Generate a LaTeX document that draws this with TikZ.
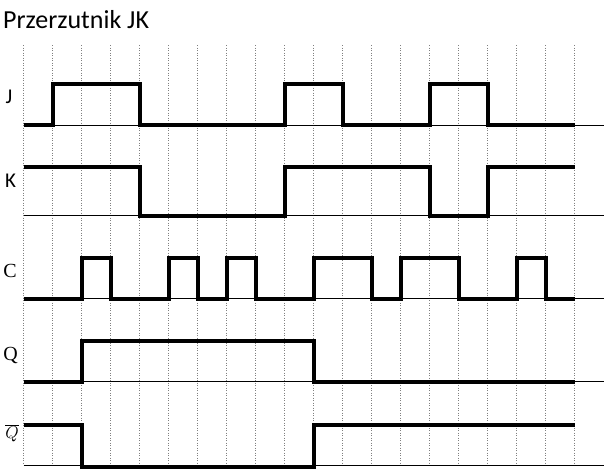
\documentclass[tikz,border=0pt]{standalone}
\usepackage{fontspec}
\setmainfont{Carlito}
\newfontfamily\labelserif{Liberation Serif}
\usepackage{tikz}

\begin{document}
\begin{tikzpicture}[x=1pt, y=-1pt, every node/.style={inner sep=0pt},
  title/.style={font=\fontsize{26}{30}\selectfont, anchor=base west},
  sans/.style={font=\fontsize{21}{24}\selectfont},
  serif/.style={font=\labelserif\fontsize{20}{24}\selectfont},
  grid/.style={gray, line width=0.8pt, dash pattern=on 1pt off 1.5pt},
  base/.style={line width=1pt},
  sig/.style={line width=4pt, line join=miter}]
\useasboundingbox (0,0) rectangle (615,474);
\node[title] (T) at (3,28) {Przerzutnik JK};
\node[sans] (J) at (9,97) {J};
\node[sans] (K) at (10.5,181) {K};
\node[serif] (C) at (10,271) {C};
\node[serif] (Q) at (10.5,355) {Q};
\node[font=\fontsize{19}{22}\selectfont] (NQ) at (12,433) {$\overline{Q}$};
\begin{scope}[x=29pt, xshift=23.5pt]
  \foreach \k in {0,...,19}
    \draw[grid] (\k,45) -- (\k,465);
  \foreach \y in {125,215.5,298.5,381.5,465.5}
    \draw[base] (0,\y) -- (20,\y);
  % J
  \draw[sig] (0,125) -- (1,125) -- (1,84) -- (4,84) -- (4,125) -- (9,125)
    -- (9,84) -- (11,84) -- (11,125) -- (14,125) -- (14,84) -- (16,84)
    -- (16,125) -- (19,125);
  % K
  \draw[sig] (0,167) -- (4,167) -- (4,215.5) -- (9,215.5) -- (9,167)
    -- (14,167) -- (14,215.5) -- (16,215.5) -- (16,167) -- (19,167);
  % C
  \draw[sig] (0,298.5) -- (2,298.5) -- (2,257.5) -- (3,257.5) -- (3,298.5)
    -- (5,298.5) -- (5,257.5) -- (6,257.5) -- (6,298.5) -- (7,298.5)
    -- (7,257.5) -- (8,257.5) -- (8,298.5) -- (10,298.5) -- (10,257.5)
    -- (12,257.5) -- (12,298.5) -- (13,298.5) -- (13,257.5) -- (15,257.5)
    -- (15,298.5) -- (17,298.5) -- (17,257.5) -- (18,257.5) -- (18,298.5)
    -- (19,298.5);
  % Q
  \draw[sig] (0,381.5) -- (2,381.5) -- (2,340.5) -- (10,340.5) -- (10,381.5)
    -- (19,381.5);
  % not Q
  \draw[sig] (0,424.5) -- (2,424.5) -- (2,466.5) -- (10,466.5) -- (10,424.5)
    -- (19,424.5);
\end{scope}
\end{tikzpicture}
\end{document}
